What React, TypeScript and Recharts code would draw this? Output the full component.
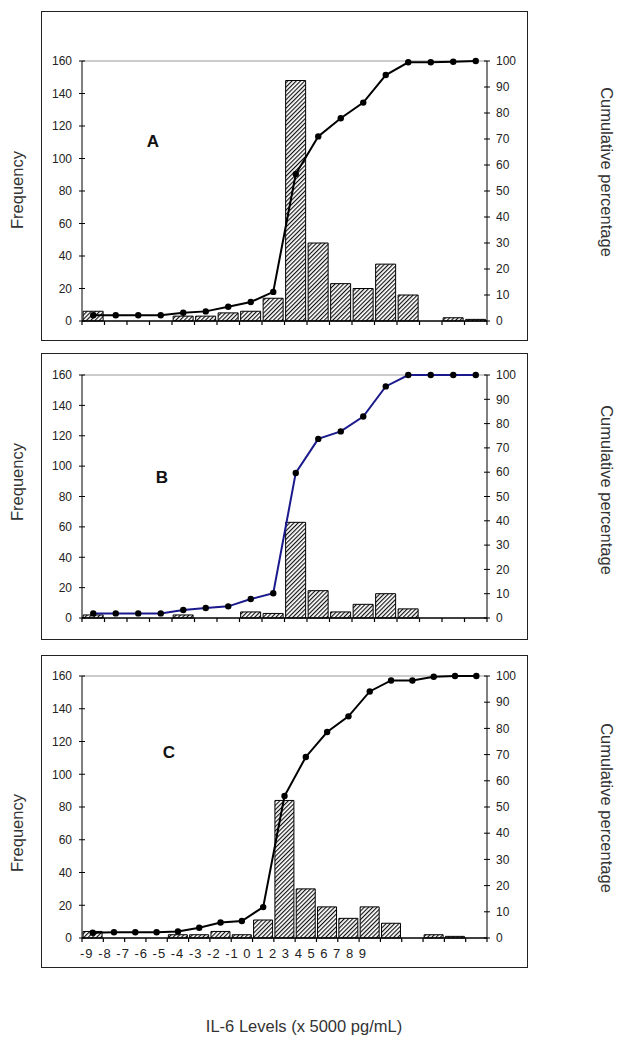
import React from "react";
import {
  ComposedChart,
  Bar,
  Line,
  XAxis,
  YAxis,
  ReferenceLine,
} from "recharts";

// bins (unlabelled class intervals) for each panel
const binsAB = ["1", "2", "3", "4", "5", "6", "7", "8", "9", "10", "11", "12", "13", "14", "15", "16", "17", "18"];
const binsC = ["1", "2", "3", "4", "5", "6", "7", "8", "9", "10", "11", "12", "13", "14", "15", "16", "17", "18", "19"];

// frequencies (left axis)
const freqA = [6, 0, 0, 0, 3, 3, 5, 6, 14, 148, 48, 23, 20, 35, 16, 0, 2, 1];
const freqB = [2, 0, 0, 0, 2, 0, 0, 4, 3, 63, 18, 4, 9, 16, 6, 0, 0, 0];
const freqC = [4, 0, 0, 0, 2, 2, 4, 2, 11, 84, 30, 19, 12, 19, 9, 0, 2, 1, 0];

// cumulative percentage (right axis)
const cumA = [2.2, 2.2, 2.2, 2.2, 3.2, 3.7, 5.5, 7.3, 11.2, 56.5, 71, 78, 84, 94.6, 99.5, 99.5, 99.7, 100];
const cumB = [1.9, 1.9, 1.9, 1.9, 3.3, 4.1, 4.8, 7.8, 10.2, 59.7, 73.7, 76.8, 82.9, 95.3, 100, 100, 100, 100];
const cumC = [2.0, 2.2, 2.2, 2.2, 2.5, 3.9, 5.9, 6.5, 11.8, 54.2, 69.1, 78.6, 84.6, 94.1, 98.3, 98.3, 99.7, 100, 100];

const leftTicks = [0, 20, 40, 60, 80, 100, 120, 140, 160];
const rightTicks = [0, 10, 20, 30, 40, 50, 60, 70, 80, 90, 100];
const xTickLabels = ["-9", "-8", "-7", "-6", "-5", "-4", "-3", "-2", "-1", "0", "1", "2", "3", "4", "5", "6", "7", "8", "9"];

const FONT = "'Liberation Sans', Arial, sans-serif";

// tick marks at bin edges (Excel style) instead of bin centres
function EdgeTick(props: any) {
  const { x, y, payload, index, count } = props;
  const half = payload && payload.offset ? payload.offset : 11.25;
  return (
    <g>
      <line x1={x - half} x2={x - half} y1={y} y2={y + 4} stroke="#000" strokeWidth={1.2} />
      {index === count - 1 && (
        <line x1={x + half} x2={x + half} y1={y} y2={y + 4} stroke="#000" strokeWidth={1.2} />
      )}
    </g>
  );
}

type PanelProps = {
  id: string;
  letter: string;
  bins: string[];
  freq: number[];
  cum: number[];
  lineColor: string;
  top: number;
  height: number;
  plotTop: number;
  plotBottom: number;
  letterX: number;
  letterY: number;
};

function Panel(p: PanelProps) {
  const data = p.bins.map((b, i) => ({ bin: b, freq: p.freq[i], cum: p.cum[i] }));
  const n = p.bins.length;
  const chartH = p.height - 2;
  return (
    <div
      style={{
        position: "absolute",
        left: 41,
        top: p.top,
        width: 487,
        height: p.height,
        border: "1px solid #222",
        boxSizing: "border-box",
      }}
    >
      <ComposedChart
        width={485}
        height={chartH}
        data={data}
        margin={{ top: p.plotTop, right: 0, bottom: p.plotBottom - 6, left: 0 }}
        barCategoryGap="5%"
      >
        <defs>
          <pattern
            id={"hatch" + p.id}
            width={3}
            height={3}
            patternUnits="userSpaceOnUse"
            patternTransform="rotate(45)"
          >
            <rect width={3} height={3} fill="#fff" />
            <line x1={0.5} y1={0} x2={0.5} y2={3} stroke="#111" strokeWidth={1.3} />
          </pattern>
        </defs>
        <XAxis
          dataKey="bin"
          height={6}
          tickSize={0}
          tickMargin={0}
          tickLine={false}
          interval={0}
          stroke="#000"
          strokeWidth={1.5}
          tick={(tp: any) => <EdgeTick {...tp} count={n} />}
        />
        <YAxis
          yAxisId="left"
          domain={[0, 160]}
          ticks={leftTicks}
          width={40}
          tickSize={6}
          tickMargin={4}
          stroke="#000"
          tickLine={{ stroke: "#000", transform: "translate(3,0)" }}
          tick={{ fontSize: 12, fill: "#222", fontFamily: FONT }}
          interval={0}
        />
        <YAxis
          yAxisId="right"
          orientation="right"
          domain={[0, 100]}
          ticks={rightTicks}
          width={40}
          tickSize={6}
          tickMargin={3}
          stroke="#000"
          tickLine={{ stroke: "#000", transform: "translate(-3,0)" }}
          tick={{ fontSize: 12, fill: "#222", fontFamily: FONT }}
          interval={0}
        />
        <ReferenceLine yAxisId="left" y={160} stroke="#999" strokeWidth={1} />
        <Bar
          yAxisId="left"
          dataKey="freq"
          fill={"url(#hatch" + p.id + ")"}
          stroke="#000"
          strokeWidth={1}
          isAnimationActive={false}
        />
        <Line
          yAxisId="right"
          dataKey="cum"
          type="linear"
          stroke={p.lineColor}
          strokeWidth={2}
          dot={{ r: 3.2, fill: "#000", stroke: "#000", strokeWidth: 0 }}
          isAnimationActive={false}
        />
      </ComposedChart>
      <div
        style={{
          position: "absolute",
          left: p.letterX - 42,
          top: p.letterY - p.top - 1,
          transform: "translate(-50%, -50%)",
          fontFamily: FONT,
          fontSize: 17,
          fontWeight: "bold",
          color: "#111",
        }}
      >
        {p.letter}
      </div>
    </div>
  );
}

function SideTitle({ text, x, y, angle }: { text: string; x: number; y: number; angle: number }) {
  return (
    <div
      style={{
        position: "absolute",
        left: x,
        top: y,
        transform: `translate(-50%, -50%) rotate(${angle}deg)`,
        fontFamily: FONT,
        fontSize: 16.5,
        color: "#333",
        whiteSpace: "nowrap",
      }}
    >
      {text}
    </div>
  );
}

export default function App() {
  return (
    <div
      style={{
        position: "absolute",
        left: 0,
        top: 0,
        width: 624,
        height: 1047,
        background: "#fff",
        overflow: "hidden",
      }}
    >
      <Panel
        id="A"
        letter="A"
        bins={binsAB}
        freq={freqA}
        cum={cumA}
        lineColor="#000"
        top={11}
        height={330}
        plotTop={49}
        plotBottom={19}
        letterX={153}
        letterY={142}
      />
      <Panel
        id="B"
        letter="B"
        bins={binsAB}
        freq={freqB}
        cum={cumB}
        lineColor="#1a1a8c"
        top={353}
        height={287}
        plotTop={21}
        plotBottom={21}
        letterX={162}
        letterY={478}
      />
      <Panel
        id="C"
        letter="C"
        bins={binsC}
        freq={freqC}
        cum={cumC}
        lineColor="#000"
        top={655}
        height={313}
        plotTop={20}
        plotBottom={29}
        letterX={169}
        letterY={753}
      />
      <svg style={{ position: "absolute", left: 0, top: 0 }} width={624} height={1047} pointerEvents="none">
        <text
          x={80}
          y={958}
          fontFamily={FONT}
          fontSize={13}
          fill="#222"
          textLength={286}
          lengthAdjust="spacing"
        >
          {xTickLabels.join(" ")}
        </text>
      </svg>
      <SideTitle text="Frequency" x={17} y={190} angle={-90} />
      <SideTitle text="Frequency" x={17} y={482} angle={-90} />
      <SideTitle text="Frequency" x={17} y={833} angle={-90} />
      <SideTitle text="Cumulative percentage" x={606} y={172} angle={90} />
      <SideTitle text="Cumulative percentage" x={606} y={490} angle={90} />
      <SideTitle text="Cumulative percentage" x={606} y={808} angle={90} />
      <div
        style={{
          position: "absolute",
          left: 304,
          top: 1026,
          transform: "translate(-50%, -50%)",
          fontFamily: FONT,
          fontSize: 16.5,
          color: "#333",
          whiteSpace: "nowrap",
        }}
      >
        IL-6 Levels (x 5000 pg/mL)
      </div>
    </div>
  );
}
